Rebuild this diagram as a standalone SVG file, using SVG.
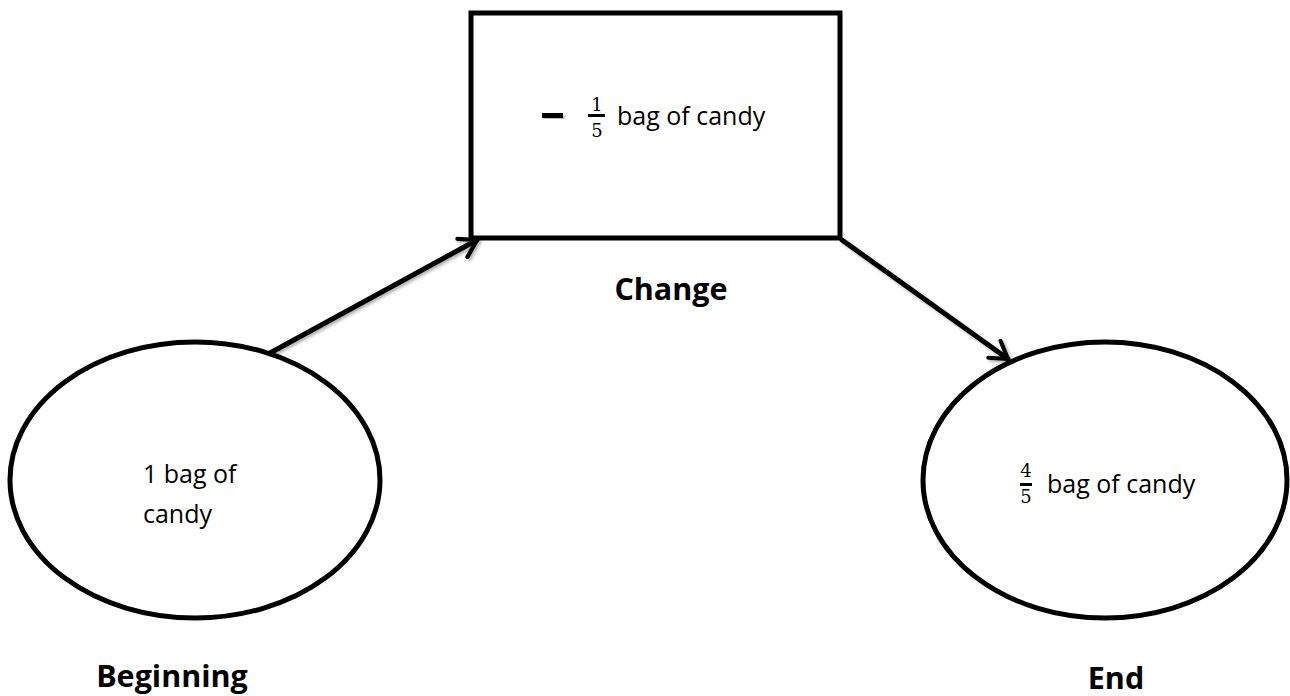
<svg xmlns="http://www.w3.org/2000/svg" width="1290" height="696" viewBox="0 0 1290 696">
  <style>
    .shape { fill: #ffffff; stroke: #000000; stroke-width: 5; }
    .link { fill: none; stroke: #000000; stroke-width: 5; stroke-linecap: round; }
    .body { font-family: "Open Sans", "Liberation Sans", sans-serif; font-size: 25px; fill: #000000; }
    .caption { font-family: "Open Sans", "Liberation Sans", sans-serif; font-size: 30.5px; font-weight: bold; fill: #000000; }
    .digit { font-family: "DejaVu Serif", "Liberation Serif", serif; font-size: 18px; fill: #000000; text-anchor: middle; }
  </style>
  <defs>
    <filter id="soft" x="-10%" y="-10%" width="120%" height="120%">
      <feDropShadow dx="2" dy="2" stdDeviation="1.5" flood-color="#000000" flood-opacity="0.3"/>
    </filter>
    <marker id="chevron" viewBox="0 0 12 12" refX="10" refY="6" markerWidth="5" markerHeight="5" markerUnits="strokeWidth" orient="auto">
      <path d="M2,1 L10,6 L2,11" fill="none" stroke="#000000" stroke-width="2" stroke-linecap="round" stroke-linejoin="round"/>
    </marker>
  </defs>

  <rect width="1290" height="696" fill="#ffffff"/>

  <!-- connectors -->
  <g id="connectors" filter="url(#soft)">
    <line class="link" x1="270" y1="353" x2="477" y2="240" marker-end="url(#chevron)"/>
    <line class="link" x1="842" y1="240" x2="1008" y2="359" marker-end="url(#chevron)"/>
  </g>

  <!-- change box -->
  <g id="change">
    <rect class="shape" x="471" y="13" width="369" height="225"/>
    <rect x="542" y="113" width="21" height="5" fill="#000000" filter="url(#soft)"/>
    <text class="digit" x="597" y="111">1</text>
    <rect x="588" y="114" width="17" height="3" fill="#000000"/>
    <text class="digit" x="597" y="137">5</text>
    <text class="body" x="617" y="125">bag of candy</text>
    <text class="caption" x="671" y="300" text-anchor="middle">Change</text>
  </g>

  <!-- beginning ellipse -->
  <g id="beginning">
    <ellipse class="shape" cx="195" cy="480" rx="185" ry="138"/>
    <text class="body" x="143" y="483">1 bag of</text>
    <text class="body" x="143" y="523">candy</text>
    <text class="caption" x="172" y="687" text-anchor="middle">Beginning</text>
  </g>

  <!-- end ellipse -->
  <g id="end">
    <ellipse class="shape" cx="1105" cy="480" rx="182" ry="138"/>
    <text class="digit" x="1026" y="477">4</text>
    <rect x="1020" y="483" width="12" height="3" fill="#000000"/>
    <text class="digit" x="1026" y="503">5</text>
    <text class="body" x="1047" y="493">bag of candy</text>
    <text class="caption" x="1116" y="689" text-anchor="middle">End</text>
  </g>
</svg>
